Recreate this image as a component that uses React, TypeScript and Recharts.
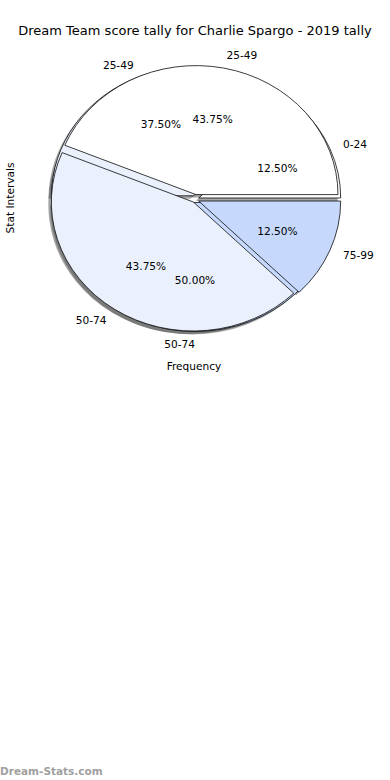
import React from 'react';
import { PieChart, Pie, Sector } from 'recharts';

// ---- data ----
const INTERVALS_A = ['0-24', '25-49', '50-74'];
const COUNTS_A = [2, 6, 8];
const INTERVALS_B = ['25-49', '50-74', '75-99'];
const COUNTS_B = [7, 7, 2];

const TITLE = 'Dream Team score tally for Charlie Spargo - 2019 tally';
const X_LABEL = 'Frequency';
const Y_LABEL = 'Stat Intervals';
const WATERMARK = 'Dream-Stats.com';

// ---- styles ----
const COLORS = ['#ffffff', '#eaf1fd', '#c6d9fd'];
const EXPLODE_A = [4, 4, 3];
const EXPLODE_B = [5, 3, 4];
const CX = 195;
const CY = 199.5;
const RX = 142;
const RY = 129;
const SY = RY / RX;
const FONT = '"DejaVu Sans", sans-serif';
const RAD = Math.PI / 180;

const dataA = INTERVALS_A.map((name, i) => ({ name, value: COUNTS_A[i], fill: COLORS[i] }));
const dataB = INTERVALS_B.map((name, i) => ({ name, value: COUNTS_B[i], fill: COLORS[i] }));

function nameOf(p: any): string {
  return p.name ?? (p.payload && p.payload.name);
}

function makeShape(names: string[], explode: number[], shadow: boolean) {
  return (props: any) => {
    const { cx, cy, midAngle } = props;
    const i = names.indexOf(nameOf(props));
    const d = explode[i] ?? 0;
    const dx = d * Math.cos(midAngle * RAD) + (shadow ? -3 : 0);
    const dy = -d * Math.sin(midAngle * RAD) + (shadow ? 3 : 0);
    return (
      <g transform={`translate(${dx} ${dy}) translate(${cx} ${cy}) scale(1 ${SY}) translate(${-cx} ${-cy})`}>
        <Sector
          {...props}
          fill={shadow ? '#4d4d4d' : COLORS[i]}
          fillOpacity={shadow ? 0.5 : 1}
          stroke={shadow ? 'none' : '#000'}
          strokeWidth={shadow ? 0 : 0.8}
        />
      </g>
    );
  };
}

function makeLabel(names: string[], explode: number[]) {
  return (props: any) => {
    const { midAngle, percent } = props;
    const name = nameOf(props);
    const i = names.indexOf(name);
    const d = explode[i] ?? 0;
    const c = Math.cos(midAngle * RAD);
    const s = Math.sin(midAngle * RAD);
    const ox = CX + d * c;
    const oy = CY - d * s;
    return (
      <g>
        <text
          x={ox + 1.1 * RX * c}
          y={oy - 1.1 * RY * s}
          textAnchor={c > 0 ? 'start' : 'end'}
          dominantBaseline="central"
          fontFamily={FONT}
          fontSize={10.6}
          fill="#000"
        >
          {name}
        </text>
        <text
          x={ox + 0.6 * RX * c}
          y={oy - 0.6 * RY * s}
          textAnchor="middle"
          dominantBaseline="central"
          fontFamily={FONT}
          fontSize={10.6}
          fill="#000"
        >
          {(percent * 100).toFixed(2) + '%'}
        </text>
      </g>
    );
  };
}

const empty = () => <g />;
const MARGIN = { top: 0, right: 0, bottom: 0, left: 0 };

export default function App() {
  return (
    <div style={{ position: 'absolute', left: 0, top: 0, width: 390, height: 780, background: '#fff' }}>
      <PieChart width={390} height={780} margin={MARGIN}>
        <Pie data={dataA} dataKey="value" nameKey="name" cx={CX} cy={CY} outerRadius={RX} startAngle={0} endAngle={360}
          isAnimationActive={false} shape={makeShape(INTERVALS_A, EXPLODE_A, true)} label={false} labelLine={false} />
        <Pie data={dataB} dataKey="value" nameKey="name" cx={CX} cy={CY} outerRadius={RX} startAngle={0} endAngle={360}
          isAnimationActive={false} shape={makeShape(INTERVALS_B, EXPLODE_B, true)} label={false} labelLine={false} />
        <Pie data={dataA} dataKey="value" nameKey="name" cx={CX} cy={CY} outerRadius={RX} startAngle={0} endAngle={360}
          isAnimationActive={false} shape={makeShape(INTERVALS_A, EXPLODE_A, false)} label={false} labelLine={false} />
        <Pie data={dataB} dataKey="value" nameKey="name" cx={CX} cy={CY} outerRadius={RX} startAngle={0} endAngle={360}
          isAnimationActive={false} shape={makeShape(INTERVALS_B, EXPLODE_B, false)} label={false} labelLine={false} />
        <Pie data={dataA} dataKey="value" nameKey="name" cx={CX} cy={CY} outerRadius={RX} startAngle={0} endAngle={360}
          isAnimationActive={false} shape={empty} label={makeLabel(INTERVALS_A, EXPLODE_A)} labelLine={false} />
        <Pie data={dataB} dataKey="value" nameKey="name" cx={CX} cy={CY} outerRadius={RX} startAngle={0} endAngle={360}
          isAnimationActive={false} shape={empty} label={makeLabel(INTERVALS_B, EXPLODE_B)} labelLine={false} />
      </PieChart>
      <svg width={390} height={780} style={{ position: 'absolute', left: 0, top: 0, pointerEvents: 'none' }}>
        <text x={195} y={30} textAnchor="middle" dominantBaseline="central" fontFamily={FONT} fontSize={13} fill="#000">
          {TITLE}
        </text>
        <text x={194} y={366} textAnchor="middle" dominantBaseline="central" fontFamily={FONT} fontSize={10.6} fill="#000">
          {X_LABEL}
        </text>
        <text x={10} y={198} textAnchor="middle" dominantBaseline="central" fontFamily={FONT} fontSize={10.6} fill="#000"
          transform="rotate(-90 10 198)">
          {Y_LABEL}
        </text>
        <text x={0} y={771} dominantBaseline="central" fontFamily={FONT} fontWeight="bold" fontSize={10.5} fill="#a0a0a0">
          {WATERMARK}
        </text>
      </svg>
    </div>
  );
}
